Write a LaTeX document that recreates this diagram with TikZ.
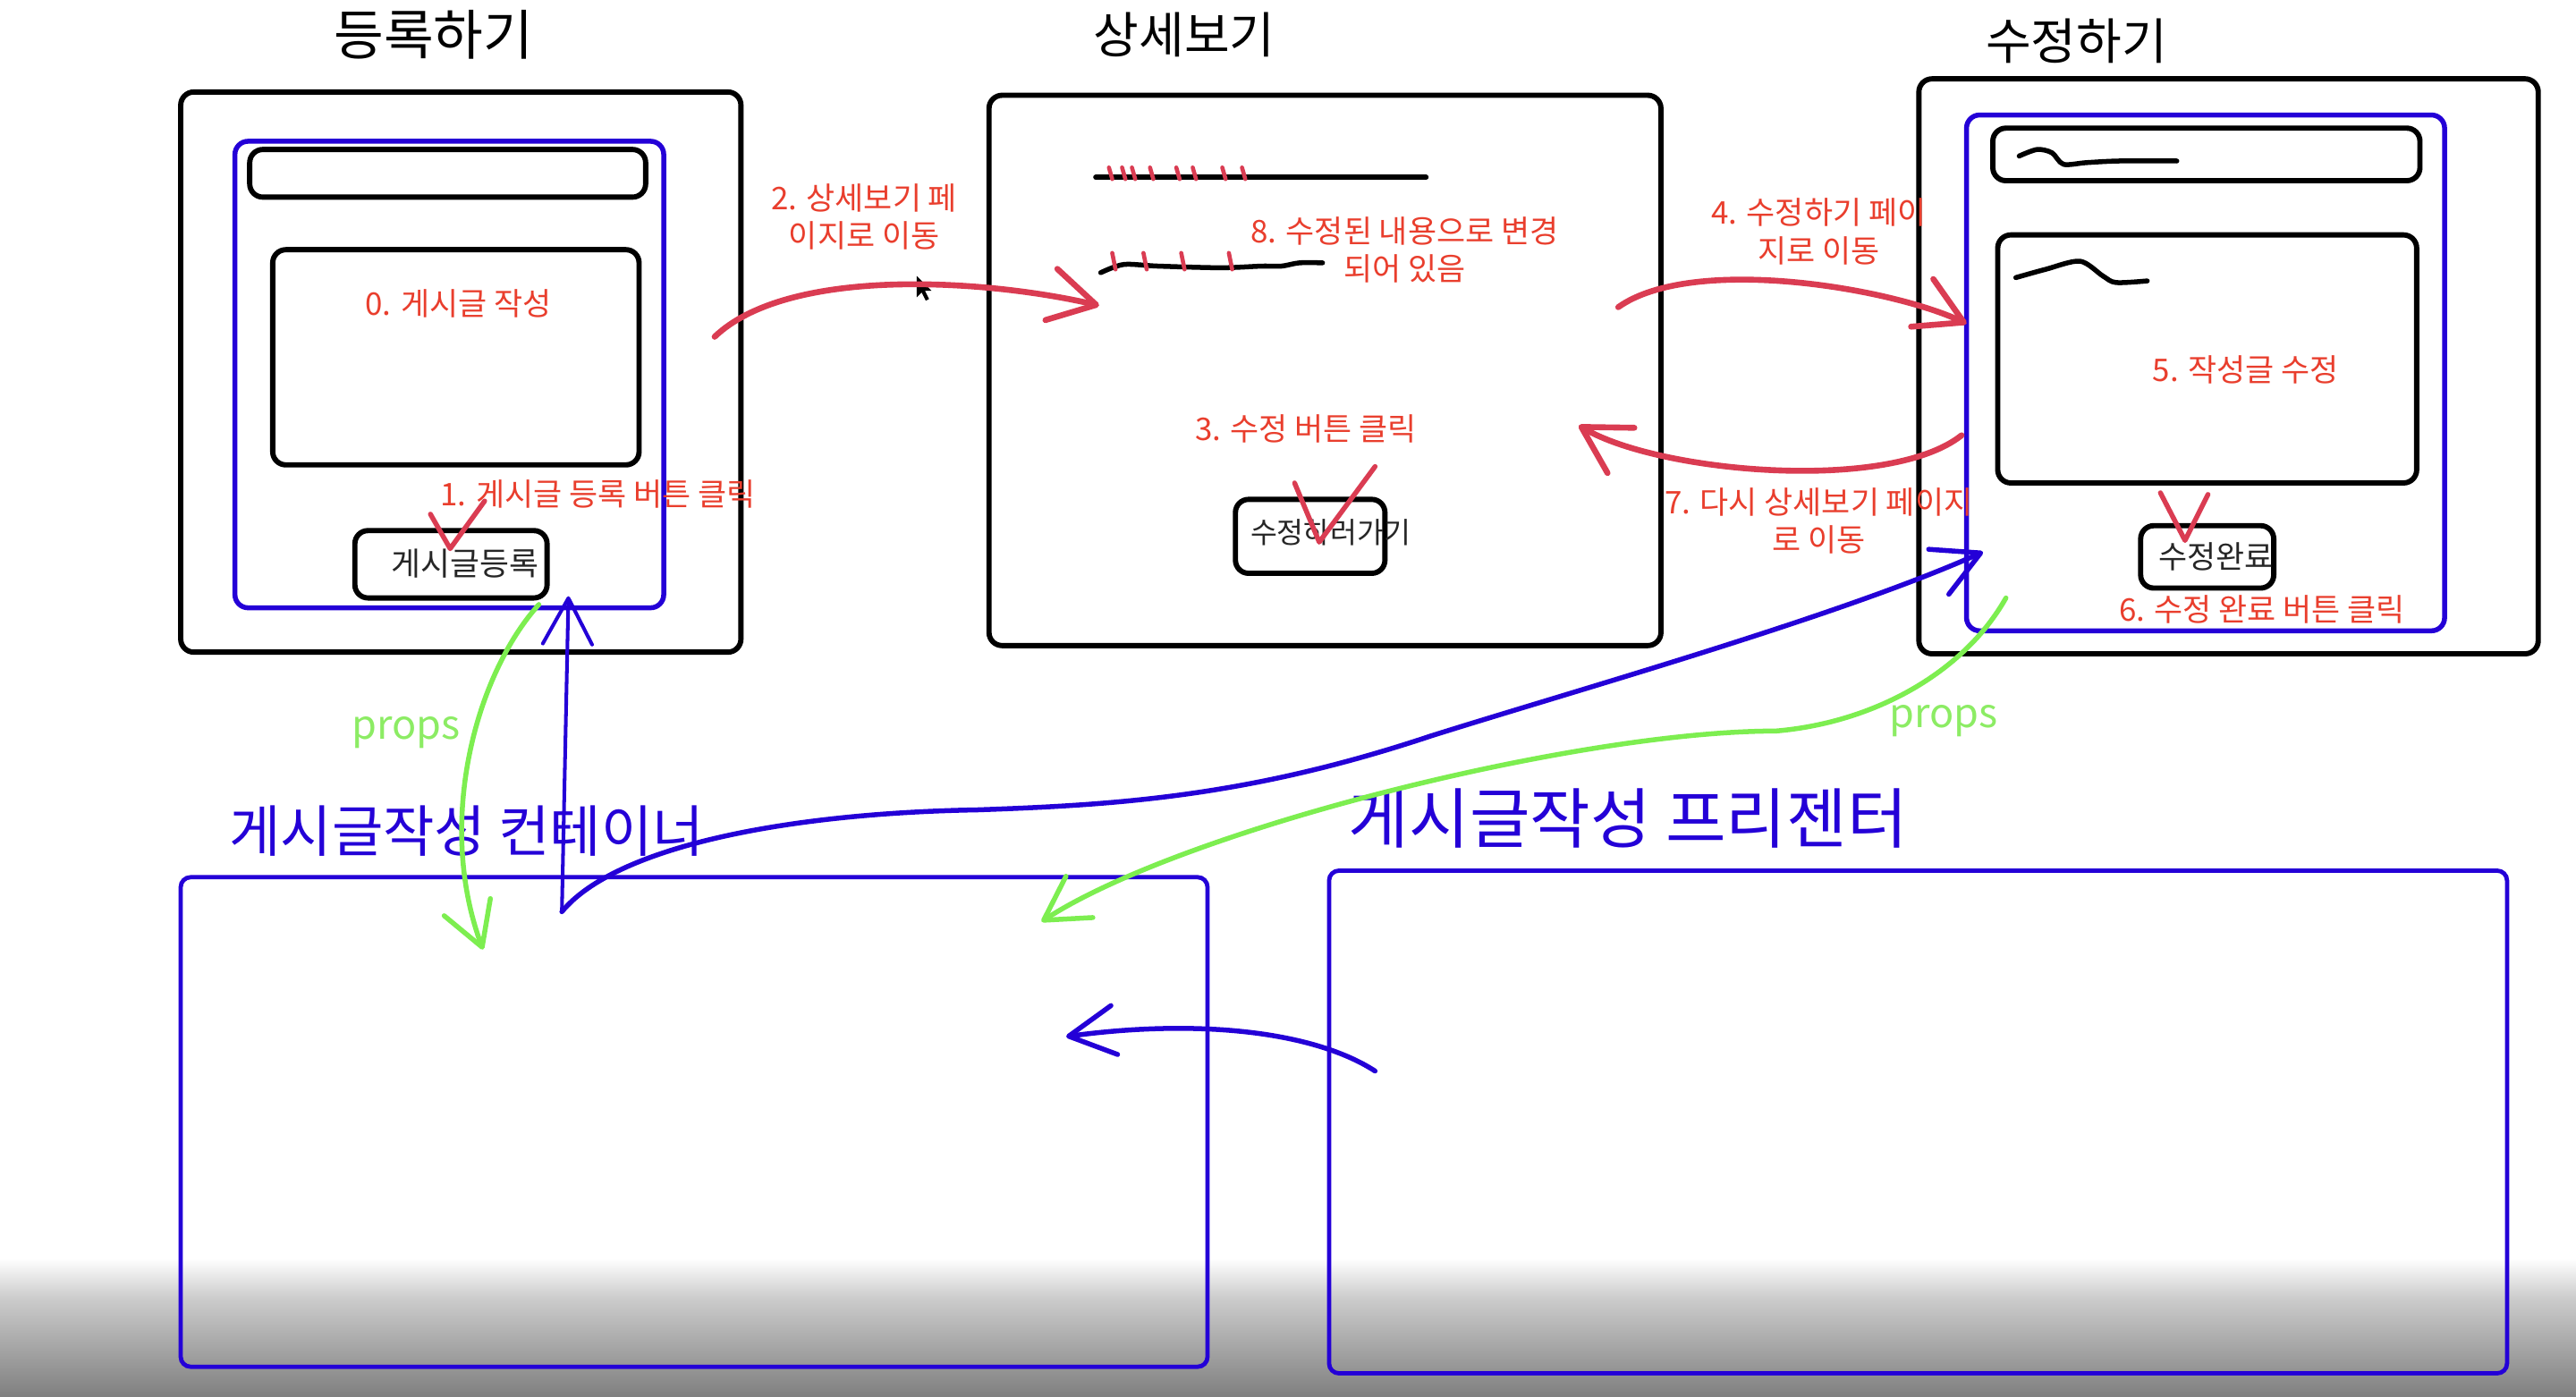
\documentclass[tikz,border=0pt]{standalone}
\usepackage{fontspec}
\setmainfont{Noto Sans CJK KR}
\usetikzlibrary{arrows.meta}
\definecolor{penred}{RGB}{218,60,82}
\definecolor{txtred}{RGB}{233,62,45}
\definecolor{penblue}{RGB}{36,0,215}
\definecolor{pengreen}{RGB}{125,238,80}
\definecolor{txtgreen}{RGB}{140,236,100}
\begin{document}
\begin{tikzpicture}[x=1pt,y=-1pt,
  frame/.style={draw=black, line width=3.2pt, rounded corners=8pt, inner sep=0pt, outer sep=0pt, anchor=north west},
  bluebox/.style={draw=penblue, line width=3pt, rounded corners=8pt, inner sep=0pt, outer sep=0pt, anchor=north west},
  bigblue/.style={draw=penblue, line width=2.6pt, rounded corners=6pt, inner sep=0pt, outer sep=0pt, anchor=north west},
  redlbl/.style={text=txtred, font=\fontsize{19}{23}\selectfont, align=center, inner sep=0pt},
  titletxt/.style={text=black, inner sep=0pt},
  btntxt/.style={text=black!85, font=\fontsize{19}{22}\selectfont, inner sep=0pt},
  captxt/.style={text=penblue, inner sep=0pt},
  propslbl/.style={text=txtgreen, font=\fontsize{24.5}{28}\selectfont, inner sep=0pt},
  redarrow/.style={draw=penred, line width=3.6pt, line cap=round, -{Straight Barb[length=28pt,width=32pt,round]}},
  bluearrow/.style={draw=penblue, line width=3pt, line cap=round, -{Straight Barb[length=28pt,width=30pt,round]}},
  greenarrow/.style={draw=pengreen, line width=3pt, line cap=round, -{Straight Barb[length=26pt,width=30pt,round]}},
  pen/.style={line width=3pt, line cap=round, line join=round},
]
\useasboundingbox (0,0) rectangle (1568,850);
\fill[white] (0,0) rectangle (1568,850);
\shade[top color=white, bottom color=black!20] (0,766) rectangle (1568,790);
\shade[top color=black!20, bottom color=black!50] (0,790) rectangle (1568,850);

% titles
\node[titletxt, font=\fontsize{33}{36}\selectfont] (tReg) at (264,21) {등록하기};
\node[titletxt, font=\fontsize{30}{33}\selectfont] (tDet) at (721,21) {상세보기};
\node[titletxt, font=\fontsize{30}{33}\selectfont] (tEdit) at (1264,25) {수정하기};

% register page
\node[frame, minimum width=341pt, minimum height=341pt] (regOuter) at (110,56) {};
\node[bluebox, minimum width=261pt, minimum height=284pt] (regBlue) at (143,86) {};
\node[frame, minimum width=241pt, minimum height=29pt] (regTitle) at (152,91) {};
\node[frame, minimum width=223pt, minimum height=131pt] (regBody) at (166,152) {};
\node[frame, minimum width=117pt, minimum height=41pt] (regBtn) at (216,323) {};
\node[btntxt, font=\fontsize{19.5}{22}\selectfont] (regBtnTxt) at (283,343) {게시글등록};
\node[redlbl] (l0) at (279,185) {0. 게시글 작성};
\node[redlbl] (l1) at (364,301) {1. 게시글 등록 버튼 클릭};
\draw[pen, penred] (262,313) -- (274,334) -- (295,305);

% detail page
\node[frame, minimum width=409pt, minimum height=335pt] (detOuter) at (602,58) {};
\draw[pen, black, line width=3.2pt] (667,108) -- (868,108);
\draw[pen, black] plot[smooth] coordinates {(670,166) (684,161) (705,162) (743,163) (768,162) (780,162) (791,160) (805,160)};
\foreach \x in {676,684,690,701,717,727,745,757} \draw[pen, penred, line width=2.5pt] (\x-1,102) -- (\x+1,109);
\foreach \x in {678,697,720,749} \draw[pen, penred, line width=2.5pt] (\x-1,154) -- (\x+1,164);
\node[frame, minimum width=91pt, minimum height=45pt] (detBtn) at (752,304) {};
\node[btntxt, font=\fontsize{17.7}{20}\selectfont] (detBtnTxt) at (810,324) {수정하러가기};
\node[redlbl] (l8) at (855,152) {8. 수정된 내용으로 변경\\되어 있음};
\node[redlbl] (l3) at (795,261) {3. 수정 버튼 클릭};
\draw[pen, penred] (788,294) -- (803,330) -- (837,284);
\fill[black] (558,168) -- (558,181) -- (561,178) -- (563.5,183) -- (565.5,182) -- (563,177) -- (567,177) -- cycle;

% edit page
\node[frame, minimum width=377pt, minimum height=350pt] (edOuter) at (1168,48) {};
\node[bluebox, minimum width=291pt, minimum height=314pt] (edBlue) at (1197,70) {};
\node[frame, minimum width=260pt, minimum height=32pt] (edTitle) at (1213,78) {};
\node[frame, minimum width=255pt, minimum height=151pt] (edBody) at (1216,143) {};
\draw[pen, black] plot[smooth] coordinates {(1229,95) (1240,91) (1249,93) (1256,100) (1270,99) (1290,98) (1325,98)};
\draw[pen, black] plot[smooth] coordinates {(1227,169) (1245,164) (1266,159) (1280,168) (1288,172) (1307,171)};
\node[frame, minimum width=81pt, minimum height=38pt] (edBtn) at (1303,320) {};
\node[btntxt] (edBtnTxt) at (1349,339) {수정완료};
\node[redlbl] (l5) at (1367,225) {5. 작성글 수정};
\node[redlbl] (l6) at (1377,371) {6. 수정 완료 버튼 클릭};
\draw[pen, penred] (1315,300) -- (1330,329) -- (1344,301);

% red arrows
\node[redlbl] (l2) at (526,132) {2. 상세보기 페\\이지로 이동};
\node[redlbl] (l4) at (1107,141) {4. 수정하기 페이\\지로 이동};
\node[redlbl] (l7) at (1107,317) {7. 다시 상세보기 페이지\\로 이동};
\coordinate (a2s) at (435,205); \coordinate (a2e) at (669,186);
\coordinate (a4s) at (985,187); \coordinate (a4e) at (1197,197);
\coordinate (a7s) at (1194,265); \coordinate (a7e) at (961,259);
\draw[redarrow] (a2s) .. controls (480,162) and (600,170) .. (a2e);
\draw[redarrow] (a4s) .. controls (1030,155) and (1150,175) .. (a4e);
\draw[redarrow] (a7s) .. controls (1150,300) and (1010,288) .. (a7e);

% bottom boxes
\node[captxt, font=\fontsize{34}{38}\selectfont] (capCont) at (284,506) {게시글작성 컨테이너};
\node[captxt, font=\fontsize{40}{44}\selectfont] (capPres) at (991,498) {게시글작성 프리젠터};
\node[bigblue, minimum width=625pt, minimum height=298pt] (container) at (110,534) {};
\node[bigblue, minimum width=717pt, minimum height=306pt] (presenter) at (809,530) {};

% blue arrows
\coordinate (bS) at (342,555);
\coordinate (bUp) at (346,363);
\coordinate (bM1) at (595,493);
\coordinate (bM2) at (871,448);
\coordinate (bEnd) at (1207,336);
\draw[bluearrow, line width=2.2pt] (bS) -- (bUp);
\draw[bluearrow] (bS) .. controls (375,515) and (480,495) .. (bM1) .. controls (680,490) and (760,485) .. (bM2) .. controls (960,420) and (1120,375) .. (bEnd);
\coordinate (pS) at (837,652); \coordinate (pE) at (649,631);
\draw[bluearrow] (pS) .. controls (800,628) and (730,620) .. (pE);

% green props arrows
\coordinate (g1s) at (328,368); \coordinate (g1e) at (294,578);
\draw[greenarrow] (g1s) .. controls (290,410) and (265,500) .. (g1e);
\coordinate (g2s) at (1221,364); \coordinate (g2m) at (1081,445); \coordinate (g2e) at (634,561);
\draw[greenarrow] (g2s) .. controls (1195,410) and (1140,440) .. (g2m) .. controls (960,445) and (720,505) .. (g2e);
\node[propslbl] (props1) at (247,446) {props};
\node[propslbl] (props2) at (1183,439) {props};
\end{tikzpicture}
\end{document}
